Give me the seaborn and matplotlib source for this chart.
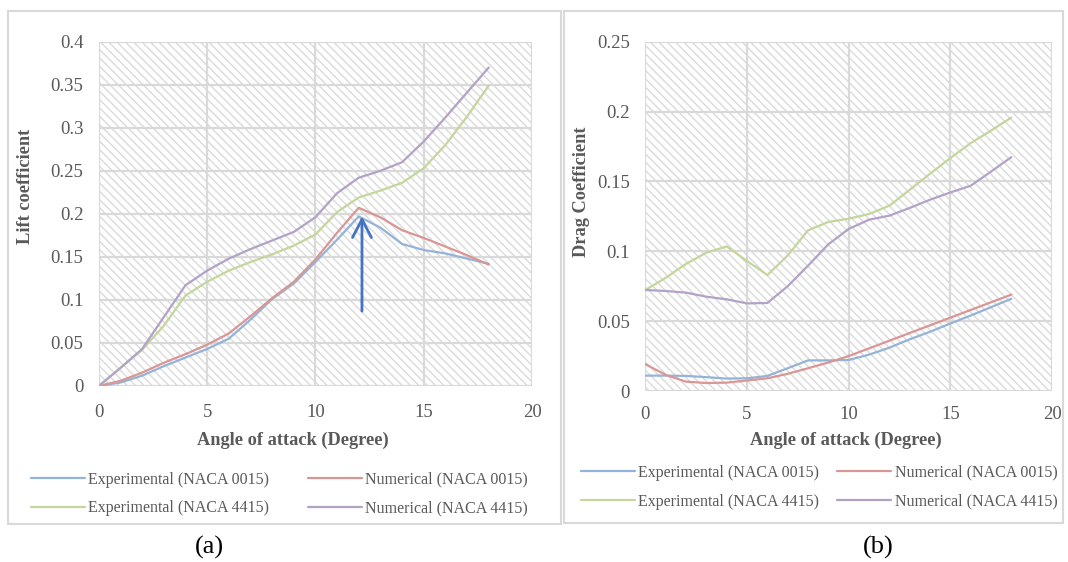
import numpy as np
import pandas as pd
import matplotlib
matplotlib.use("Agg")
import matplotlib.pyplot as plt
from matplotlib.patches import Rectangle
import seaborn as sns

# ---------------- data ----------------
angles = [0, 1, 2, 3, 4, 5, 6, 7, 8, 9, 10, 11, 12, 13, 14, 15, 16, 17, 18]

lift_exp_0015 = [0, 0.004, 0.012, 0.023, 0.033, 0.043, 0.055, 0.077, 0.101, 0.119,
                 0.144, 0.170, 0.197, 0.184, 0.165, 0.158, 0.154, 0.148, 0.142]
lift_num_0015 = [0, 0.006, 0.0155, 0.027, 0.037, 0.048, 0.061, 0.081, 0.102, 0.121,
                 0.147, 0.178, 0.207, 0.196, 0.181, 0.172, 0.162, 0.152, 0.141]
lift_exp_4415 = [0, 0.021, 0.042, 0.070, 0.105, 0.121, 0.134, 0.144, 0.153, 0.163,
                 0.176, 0.202, 0.219, 0.227, 0.236, 0.253, 0.280, 0.313, 0.349]
lift_num_4415 = [0, 0.021, 0.043, 0.080, 0.117, 0.134, 0.148, 0.159, 0.169, 0.179,
                 0.196, 0.224, 0.242, 0.250, 0.260, 0.284, 0.312, 0.341, 0.370]

drag_exp_0015 = [0.011, 0.011, 0.0108, 0.0099, 0.0089, 0.0091, 0.0108, 0.0163, 0.0219, 0.0219,
                 0.0222, 0.0260, 0.031, 0.037, 0.0424, 0.0483, 0.054, 0.060, 0.066]
drag_num_0015 = [0.0192, 0.0115, 0.0067, 0.0057, 0.006, 0.0075, 0.0091, 0.0123, 0.0163, 0.0204,
                 0.0250, 0.0305, 0.036, 0.0415, 0.047, 0.0525, 0.058, 0.0635, 0.069]
drag_exp_4415 = [0.0723, 0.081, 0.091, 0.099, 0.1035, 0.093, 0.083, 0.097, 0.115, 0.121,
                 0.1233, 0.1267, 0.1326, 0.144, 0.1555, 0.1667, 0.1774, 0.1864, 0.1957]
drag_num_4415 = [0.0723, 0.0716, 0.0704, 0.0675, 0.0656, 0.0627, 0.063, 0.075, 0.0897, 0.105,
                 0.116, 0.1226, 0.1255, 0.131, 0.1369, 0.1421, 0.1469, 0.157, 0.1674]

series_names = ["Experimental (NACA 0015)", "Numerical (NACA 0015)",
                "Experimental (NACA 4415)", "Numerical (NACA 4415)"]
legend_order = ["Experimental (NACA 0015)", "Experimental (NACA 4415)",
                "Numerical (NACA 0015)", "Numerical (NACA 4415)"]

x_ticks = [0, 5, 10, 15, 20]
lift_ticks = [0, 0.05, 0.1, 0.15, 0.2, 0.25, 0.3, 0.35, 0.4]
lift_tick_labels = ["0", "0.05", "0.1", "0.15", "0.2", "0.25", "0.3", "0.35", "0.4"]
drag_ticks = [0, 0.05, 0.1, 0.15, 0.2, 0.25]
drag_tick_labels = ["0", "0.05", "0.1", "0.15", "0.2", "0.25"]

# stall-point arrow on the lift chart
arrow_x = 12.15
arrow_y_start = 0.087
arrow_y_end = 0.197

# ---------------- style ----------------
colors = {
    "Experimental (NACA 0015)": "#95b3d7",
    "Numerical (NACA 0015)": "#d99694",
    "Experimental (NACA 4415)": "#c3d69b",
    "Numerical (NACA 4415)": "#b3a2c7",
}
TXT = "#595959"
GRID = "#d9d9d9"

sns.set_style("white")
plt.rcParams["font.family"] = ["Liberation Serif", "DejaVu Serif"]
plt.rcParams["hatch.linewidth"] = 1.0
plt.rcParams["hatch.color"] = "#dadada"

W, H = 1068, 562


def long_df(values_list):
    frames = []
    for name, vals in zip(series_names, values_list):
        frames.append(pd.DataFrame({"angle": angles, "value": vals, "series": name}))
    return pd.concat(frames, ignore_index=True)


lift_df = long_df([lift_exp_0015, lift_num_0015, lift_exp_4415, lift_num_4415])
drag_df = long_df([drag_exp_0015, drag_num_0015, drag_exp_4415, drag_num_4415])

fig = plt.figure(figsize=(W / 100, H / 100), dpi=100)
fig.patch.set_facecolor("white")

# panel frames
fig.add_artist(Rectangle((7.6 / W, 1 - 524 / H), (561 - 7.6) / W, (524 - 11) / H,
                         transform=fig.transFigure, fill=False, edgecolor=GRID, lw=1.5))
fig.add_artist(Rectangle((564 / W, 1 - 523 / H), (1063 - 564) / W, (523 - 11) / H,
                         transform=fig.transFigure, fill=False, edgecolor=GRID, lw=1.5))

ax1 = fig.add_axes([98.8 / W, 1 - 386 / H, 433.2 / W, 344.3 / H])
ax2 = fig.add_axes([645.4 / W, 1 - 391 / H, 406.6 / W, 349.3 / H])


def style_axes(ax, df, yticks, ylabels, ylim):
    ax.add_patch(Rectangle((0, 0), 1, 1, transform=ax.transAxes, facecolor="white",
                           edgecolor="#dadada", lw=0, hatch="\\\\\\\\", zorder=0))
    sns.lineplot(data=df, x="angle", y="value", hue="series", hue_order=series_names,
                 palette=colors, lw=1.6, ax=ax, zorder=3)
    ax.set_xlim(0, 20)
    ax.set_ylim(*ylim)
    ax.set_xticks(x_ticks)
    ax.set_xticklabels([str(t) for t in x_ticks])
    ax.set_yticks(yticks)
    ax.set_yticklabels(ylabels)
    ax.grid(True, color=GRID, lw=1.6)
    ax.set_axisbelow(True)
    for s in ax.spines.values():
        s.set_visible(False)
    ax.tick_params(axis="both", length=0, labelsize=13.5, labelcolor=TXT)
    ax.tick_params(axis="y", pad=11)
    ax.set_xlabel("")
    ax.set_ylabel("")
    handles, labels = ax.get_legend_handles_labels()
    ax.get_legend().remove()
    return dict(zip(labels, handles))


h1 = style_axes(ax1, lift_df, lift_ticks, lift_tick_labels, (0, 0.4))
h2 = style_axes(ax2, drag_df, drag_ticks, drag_tick_labels, (0, 0.25))
ax1.tick_params(axis="x", pad=13)
ax2.tick_params(axis="x", pad=11)

# arrow
ax1.annotate("", xy=(arrow_x, arrow_y_end), xytext=(arrow_x, arrow_y_start),
             arrowprops=dict(arrowstyle="->,head_length=0.65,head_width=0.34",
                             color="#4472c4", lw=2, mutation_scale=20,
                             shrinkA=0, shrinkB=0), zorder=5)

# axis labels
lab = dict(color=TXT, fontsize=13.2, fontweight="bold", ha="center", va="center")
fig.text(293 / W, 1 - 440 / H, "Angle of attack (Degree)", **lab)
fig.text(846 / W, 1 - 440 / H, "Angle of attack (Degree)", **lab)
fig.text(25.5 / W, 1 - 186 / H, "Lift coefficient", rotation=90, **lab)
fig.text(582 / W, 1 - 192 / H, "Drag Coefficient", rotation=90, **lab)

# legends
leg_kw = dict(ncol=2, loc="center left", bbox_transform=fig.transFigure, frameon=False,
              fontsize=11.5, handlelength=3.4, handletextpad=0.2, labelspacing=0.8,
              borderpad=0, borderaxespad=0, labelcolor=TXT)
ax1.legend([h1[n] for n in legend_order], legend_order,
           bbox_to_anchor=(31 / W, 1 - 494 / H), columnspacing=2.4, **leg_kw)
ax2.legend([h2[n] for n in legend_order], legend_order,
           bbox_to_anchor=(581 / W, 1 - 487.2 / H), columnspacing=1.1, **leg_kw)

# panel captions
fig.text(209 / W, 1 - 547 / H, "(a)", fontsize=19, ha="center", va="center", color="black")
fig.text(878 / W, 1 - 547 / H, "(b)", fontsize=19, ha="center", va="center", color="black")

fig.savefig("out.png", dpi=100, facecolor="white")
